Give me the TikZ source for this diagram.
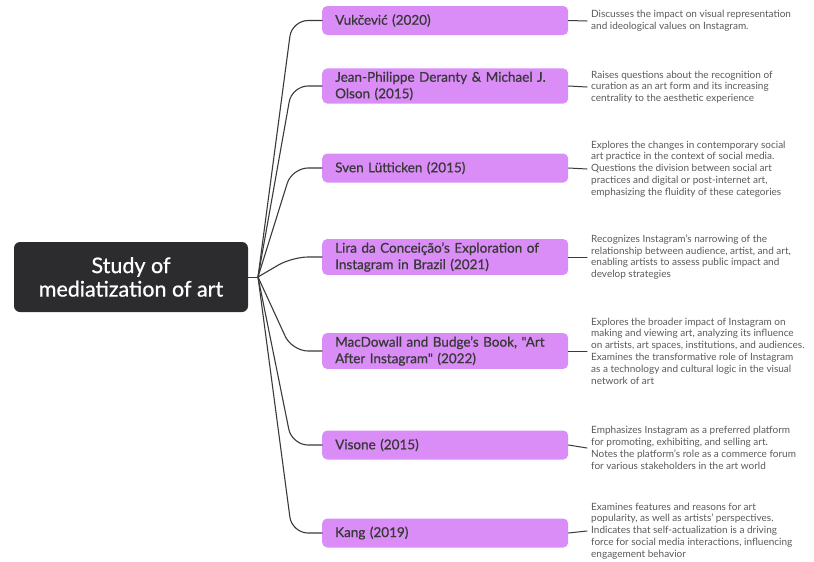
\documentclass[tikz,border=0pt]{standalone}
\usepackage{fontspec}
\setmainfont{Lato}
\newfontfamily\topicfont{Lato}[FakeBold=0.7]
\usetikzlibrary{positioning}
\definecolor{rootfill}{HTML}{2C2C2E}
\definecolor{topicfill}{HTML}{DA8DF6}
\definecolor{linegray}{HTML}{3A3A3A}
\definecolor{notegray}{HTML}{5A5A5A}
\tikzset{
  rootbox/.style={fill=rootfill, rounded corners=6pt, text=white, align=center,
    font=\fontsize{21.5}{23.5}\topicfont, minimum width=234pt, minimum height=70pt},
  topic/.style={fill=topicfill, rounded corners=5pt, text=black!78, align=left, anchor=west,
    font=\fontsize{13.5}{16.5}\topicfont, text width=220pt, inner xsep=13pt, minimum height=29pt},
  note/.style={text=notegray, align=left, anchor=west, inner xsep=4pt, inner ysep=0pt,
    font=\fontsize{10}{11.8}\selectfont},
  branch/.style={draw=linegray, line width=1.1pt, rounded corners=16pt},
  twig/.style={draw=linegray, line width=1pt},
}
\begin{document}
\begin{tikzpicture}[x=1pt, y=-1pt, line join=round, line cap=round]
  \useasboundingbox (0,0) rectangle (814,562);
  \node[rootbox] (root) at (131,277) {Study of\\mediatization of art};
  \coordinate (fan) at (258,277);
  \draw[twig] (root.east) -- (fan);
  % topics
  \node[topic] (t1) at (322,20.5) {Vukčević (2020)};
  \node[topic] (t2) at (322,86) {Jean-Philippe Deranty \& Michael J.\\Olson (2015)};
  \node[topic] (t3) at (322,168) {Sven Lütticken (2015)};
  \node[topic] (t4) at (322,257) {Lira da Conceição’s Exploration of\\Instagram in Brazil (2021)};
  \node[topic] (t5) at (322,351) {MacDowall and Budge’s Book, "Art\\After Instagram" (2022)};
  \node[topic] (t6) at (322,445) {Visone (2015)};
  \node[topic] (t7) at (322,533) {Kang (2019)};
  % notes
  \node[note] (n1) at (587,21) {Discusses the impact on visual representation\\and ideological values on Instagram.};
  \node[note] (n2) at (587,87) {Raises questions about the recognition of\\curation as an art form and its increasing\\centrality to the aesthetic experience};
  \node[note] (n3) at (587,169) {Explores the changes in contemporary social\\art practice in the context of social media.\\Questions the division between social art\\practices and digital or post-internet art,\\emphasizing the fluidity of these categories};
  \node[note] (n4) at (587,257) {Recognizes Instagram’s narrowing of the\\relationship between audience, artist, and art,\\enabling artists to assess public impact and\\develop strategies};
  \node[note] (n5) at (587,351) {Explores the broader impact of Instagram on\\making and viewing art, analyzing its influence\\on artists, art spaces, institutions, and audiences.\\Examines the transformative role of Instagram\\as a technology and cultural logic in the visual\\network of art};
  \node[note] (n6) at (587,448) {Emphasizes Instagram as a preferred platform\\for promoting, exhibiting, and selling art.\\Notes the platform’s role as a commerce forum\\for various stakeholders in the art world};
  \node[note] (n7) at (587,531) {Examines features and reasons for art\\popularity, as well as artists’ perspectives.\\Indicates that self-actualization is a driving\\force for social media interactions, influencing\\engagement behavior};
  \foreach \i in {1,...,7}{
    \draw[branch] (t\i.west) -- ++(-30,0) -- (fan);
    \draw[twig] (t\i.east) -- (n\i.west);
  }
\end{tikzpicture}
\end{document}
